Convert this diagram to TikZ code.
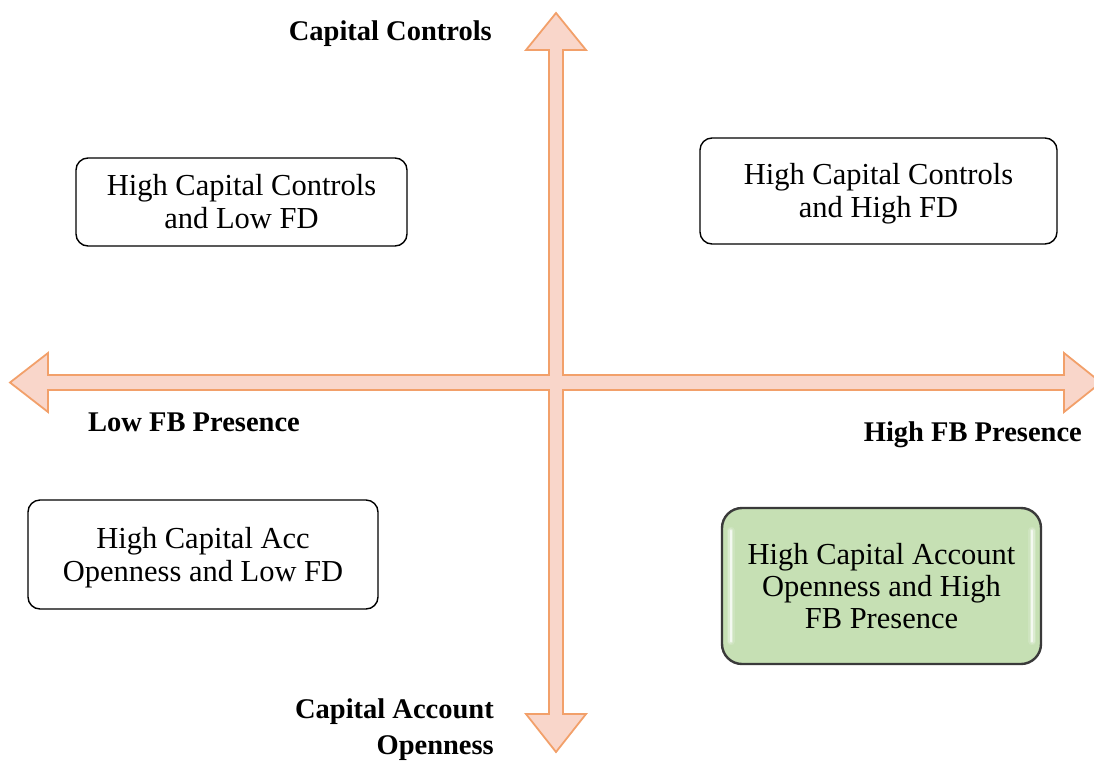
\documentclass[tikz,border=0pt]{standalone}
\usepackage{fontspec}
\setmainfont{Liberation Serif}
\definecolor{arrfill}{HTML}{F9D6CA}
\definecolor{arrline}{HTML}{F2A06A}
\definecolor{gfill}{HTML}{C6E0B4}
\definecolor{gline}{HTML}{3A3A3A}
\tikzset{
  quad/.style={draw=black, line width=1.4pt, rounded corners=12pt, align=center,
    font=\fontsize{30.5}{33}\selectfont, inner sep=0pt},
  greenquad/.style={quad, draw=gline, line width=2.4pt, fill=gfill, rounded corners=20pt},
  axislabel/.style={font=\fontsize{28.5}{36}\selectfont\bfseries, inner sep=0pt},
  gloss/.style={white, line cap=round}
}
\begin{document}
\begin{tikzpicture}[x=1pt,y=-1pt]
\useasboundingbox (0,0) rectangle (1094,761);
\begin{scope}
\clip (0,0) rectangle (1094,761);
\draw[fill=arrfill, draw=arrline, line width=1.8pt, line join=miter]
 (556,13) -- (586,50) -- (563,50) -- (563,375) -- (1064,375) -- (1064,353)
 -- (1101,382.5) -- (1064,412) -- (1064,390) -- (563,390) -- (563,714)
 -- (586,714) -- (556,752) -- (526,714) -- (549,714) -- (549,390)
 -- (48,390) -- (48,412) -- (10,382.5) -- (48,353) -- (48,375)
 -- (549,375) -- (549,50) -- (526,50) -- cycle;
\end{scope}

\node[quad, minimum width=331pt, minimum height=88pt] (tl) at (241.5,202)
  {High Capital Controls\\and Low FD};
\node[quad, minimum width=357pt, minimum height=106pt] (tr) at (878.5,191)
  {};
\node[align=center, font=\fontsize{30.5}{33}\selectfont, inner sep=0pt] (trtext) at (878.5,194)
  {High Capital Controls\\and High FD};
\node[quad, minimum width=350pt, minimum height=109pt] (bl) at (203,554.5)
  {};
\node[align=center, font=\fontsize{30.5}{33}\selectfont, inner sep=0pt] (bltext) at (203,557.5)
  {High Capital Acc\\Openness and Low FD};
\node[greenquad, minimum width=319pt, minimum height=156pt] (br) at (881.5,586)
  {};
% glossy highlights
\foreach \w/\o in {8/0.15, 5/0.3, 2.5/0.7} {
  \draw[gloss, opacity=\o, line width=\w pt]
    ([xshift=10pt,yshift=-24pt]br.north west) -- ([xshift=10pt,yshift=24pt]br.south west);
  \draw[gloss, opacity=\o, line width=\w pt]
    ([xshift=-10pt,yshift=-24pt]br.north east) -- ([xshift=-10pt,yshift=24pt]br.south east);
}
\node[align=center, font=\fontsize{30.5}{32}\selectfont, inner sep=0pt] (brtext) at (br.center)
  {High Capital Account\\Openness and High\\FB Presence};

\node[axislabel, anchor=east] (top) at (492,34) {Capital Controls};
\node[axislabel, anchor=west] (left) at (88,422) {Low FB Presence};
\node[axislabel, anchor=east] (right) at (1082,435) {High FB Presence};
\node[axislabel, anchor=north east, align=right] (bottom) at (494,699)
  {Capital Account\\Openness};
\end{tikzpicture}
\end{document}
